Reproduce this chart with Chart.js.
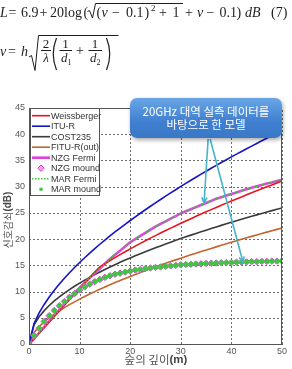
<!DOCTYPE html>
<html><head><meta charset="utf-8">
<script src="https://cdn.jsdelivr.net/npm/chart.js@4.4.1/dist/chart.umd.min.js"></script>
<style>
html,body{margin:0;padding:0;background:#fff;width:292px;height:369px;overflow:hidden;}
#wrap{position:relative;width:292px;height:369px;}
canvas{position:absolute;left:0;top:0;}
#eq{position:absolute;left:0;top:0;}
#eq text{font-family:"Liberation Serif","DejaVu Serif",serif;fill:#1e1e1e;font-size:14px;}
#eq .i{font-style:italic;}
#eq path,#eq line{stroke:#1e1e1e;fill:none;stroke-width:1;}
#callout{position:absolute;left:130px;top:98px;width:152px;height:40px;border-radius:7px;
 background:linear-gradient(#6aa6e6,#3f7fcf 60%,#3a78c6);box-shadow:1px 2px 4px rgba(0,0,0,0.35);
 color:#fff;font-family:"Noto Sans CJK KR","Noto Sans",sans-serif;font-size:11.5px;line-height:13px;text-align:center;
 display:flex;flex-direction:column;justify-content:center;}
</style></head>
<body><div id="wrap">
<canvas id="c" width="292" height="369"></canvas>
<svg id="eq" width="292" height="80" viewBox="0 0 292 80">
 <text class="i" x="0" y="17">L</text>
 <text x="8.5" y="17">=</text>
 <text x="21" y="17">6.9</text>
 <text x="39.5" y="17">+</text>
 <text x="50" y="17">20log</text>
 <text x="83.5" y="17">(</text>
 <path d="M87.5,11.5 L89.5,10.5 L92.5,18 L95.5,3.5 L183,3.5"/>
 <text x="96.5" y="17">(</text>
 <text class="i" x="101.5" y="17">v</text>
 <text x="112" y="17">−</text>
 <text x="126" y="17">0.1</text>
 <text x="144.5" y="17">)</text>
 <text x="151" y="11" style="font-size:9px">2</text>
 <text x="159" y="17">+</text>
 <text x="172.5" y="17">1</text>
 <text x="185" y="17">+</text>
 <text class="i" x="197" y="17">v</text>
 <text x="206.5" y="17">−</text>
 <text x="219.5" y="17">0.1</text>
 <text x="236.5" y="17">)</text>
 <text class="i" x="245" y="17">dB</text>
 <text x="271" y="17">(7)</text>

 <text class="i" x="0" y="56">v</text>
 <text x="8" y="56">=</text>
 <text class="i" x="21" y="56">h</text>
 <path d="M29,57 L31.5,55.5 L35,70.5 L38.5,35.5 L118.5,35.5"/>
 <text x="46" y="47.5" text-anchor="middle" style="font-size:13px">2</text>
 <line x1="41" y1="50.5" x2="51" y2="50.5"/>
 <text class="i" x="46" y="62" text-anchor="middle" style="font-size:13px">λ</text>
 <path d="M56.5,38 Q50,54 56.5,70" style="stroke-width:1.2"/>
 <text x="65.5" y="47.5" text-anchor="middle" style="font-size:13px">1</text>
 <line x1="59.5" y1="50.5" x2="72" y2="50.5"/>
 <text class="i" x="61" y="62" style="font-size:13px">d</text>
 <text x="67.5" y="65" style="font-size:8px">1</text>
 <text x="80" y="55" text-anchor="middle">+</text>
 <text x="95" y="47.5" text-anchor="middle" style="font-size:13px">1</text>
 <line x1="88.5" y1="50.5" x2="102" y2="50.5"/>
 <text class="i" x="90" y="62" style="font-size:13px">d</text>
 <text x="96.5" y="65" style="font-size:8px">2</text>
 <path d="M106.5,38 Q113,54 106.5,70" style="stroke-width:1.2"/>
</svg>
<div id="callout"><div>20GHz 대역 실측 데이터를</div><div>바탕으로 한 모델</div></div>
</div>
<script>
const depth = [0,1,2,3,4,5,6,7,8,9,10,11,12,13,14,15,16,17,18,19,20,21,22,23,24,25,26,27,28,29,30,31,32,33,34,35,36,37,38,39,40,41,42,43,44,45,46,47,48,49,50];
const weissberger = [0,1.05,2.11,3.16,4.22,5.27,6.32,7.38,8.43,9.49,10.54,11.6,12.65,13.7,14.7,15.31,15.9,16.48,17.04,17.59,18.14,18.66,19.18,19.69,20.19,20.67,21.16,21.63,22.1,22.56,23.02,23.46,23.9,24.34,24.77,25.2,25.62,26.04,26.45,26.86,27.26,27.66,28.05,28.44,28.83,29.21,29.59,29.97,30.34,30.71,31.08];
const ituR = [0,3.9,5.92,7.54,8.96,10.25,11.43,12.54,13.59,14.58,15.53,16.45,17.33,18.19,19.02,19.82,20.6,21.36,22.11,22.83,23.55,24.24,24.93,25.6,26.26,26.92,27.55,28.19,28.81,29.42,30.05,30.63,31.22,31.8,32.39,32.95,33.5,34.05,34.6,35.13,35.69,36.2,36.71,37.22,37.73,38.24,38.74,39.24,39.73,40.22,40.8];
const cost235 = [0,3.67,5.19,6.36,7.34,8.21,8.99,9.71,10.38,11.01,11.61,12.17,12.71,13.23,13.73,14.21,14.68,15.13,15.57,16.0,16.41,16.82,17.21,17.6,17.98,18.35,18.71,19.07,19.42,19.76,20.1,20.43,20.76,21.08,21.4,21.71,22.02,22.32,22.62,22.92,23.21,23.5,23.78,24.07,24.34,24.62,24.89,25.16,25.43,25.69,25.95];
const fituR = [0,2.2,3.31,4.21,4.99,5.69,6.33,6.93,7.5,8.04,8.56,9.05,9.53,9.99,10.44,10.87,11.29,11.71,12.11,12.5,12.88,13.26,13.63,13.99,14.35,14.7,15.04,15.38,15.71,16.04,16.37,16.69,17.0,17.31,17.62,17.92,18.22,18.52,18.82,19.11,19.39,19.68,19.96,20.24,20.52,20.79,21.06,21.33,21.6,21.86,22.12];
const nzgFermi = [0,1.0,2.1,3.2,4.3,5.4,6.5,7.6,8.6,9.7,10.7,11.7,12.6,13.5,14.4,15.3,16.2,17.0,17.8,18.6,19.4,20.0,20.6,21.2,21.8,22.4,22.9,23.4,23.9,24.4,24.9,25.3,25.7,26.1,26.5,26.9,27.3,27.7,28.0,28.3,28.6,28.9,29.2,29.5,29.8,30.1,30.3,30.6,30.8,31.1,31.3];
const nzgMound = [0,1.6,3.0,4.3,5.4,6.4,7.3,8.1,8.9,9.6,10.3,10.9,11.4,11.9,12.3,12.7,13.0,13.3,13.5,13.7,13.9,14.1,14.2,14.4,14.5,14.6,14.7,14.8,14.9,15.0,15.1,15.15,15.2,15.25,15.3,15.35,15.4,15.45,15.5,15.5,15.55,15.6,15.6,15.65,15.7,15.7,15.75,15.75,15.8,15.8,15.85];
const marFermi = nzgFermi.slice();
const marMound = nzgMound.slice();
const xTicks = [0,10,20,30,40,50];
const yTicks = [0,5,10,15,20,25,30,35,40,45];
const seriesNames = ['Weissberger','ITU-R','COST235','FITU-R(out)','NZG Fermi','NZG mound','MAR Fermi','MAR mound'];
const yTitle = ['신호감쇠','(dB)'];
const xTitle = ['숲의 깊이','(m)'];
// callout arrows in data units [x0,y0,x1,y1]
const arrows = [[35.4,39.1,34.6,26.9],[35.8,39.1,42.3,15.6]];

const pts = arr => depth.map((d,i)=>({x:d,y:arr[i]}));
const RED='#e8141c', BLUE='#1414c8', BLACK='#3a3a3a', BROWN='#c4642c', MAG='#e040e0', GREEN='#3cc83c';
const datasets = [
 {label:seriesNames[0],data:pts(weissberger),borderColor:RED,borderWidth:1.6,pointRadius:0,order:3},
 {label:seriesNames[1],data:pts(ituR),borderColor:BLUE,borderWidth:1.6,pointRadius:0,order:5},
 {label:seriesNames[2],data:pts(cost235),borderColor:BLACK,borderWidth:1.6,pointRadius:0,order:6},
 {label:seriesNames[3],data:pts(fituR),borderColor:BROWN,borderWidth:1.6,pointRadius:0,order:7},
 {label:seriesNames[4],data:pts(nzgFermi),borderColor:MAG,borderWidth:2.6,pointRadius:0,order:4},
 {label:seriesNames[5],data:pts(nzgMound),showLine:false,pointStyle:'rectRot',pointRadius:3.2,borderColor:MAG,backgroundColor:'#f0a0f0',pointBorderWidth:1,order:2},
 {label:seriesNames[6],data:pts(marFermi),borderColor:GREEN,borderWidth:1.5,borderDash:[1.5,1.5],pointRadius:0,order:1},
 {label:seriesNames[7],data:pts(marMound),showLine:false,pointStyle:'circle',pointRadius:2.3,borderColor:GREEN,backgroundColor:GREEN,pointBorderWidth:0.5,order:0}
];
datasets.forEach(d=>{d.tension=0;d.fill=false;d.pointHoverRadius=0;});

const gridPlugin = {
 id:'dotgrid',
 beforeDatasetsDraw(chart){
  const ctx=chart.ctx, a=chart.chartArea, xs=chart.scales.x, ys=chart.scales.y;
  ctx.save(); ctx.strokeStyle='#6e6e6e'; ctx.lineWidth=1; ctx.setLineDash([2,2]);
  xTicks.forEach(v=>{const p=Math.round(xs.getPixelForValue(v))+0.5; ctx.beginPath(); ctx.moveTo(p,a.bottom); ctx.lineTo(p,a.top); ctx.stroke();});
  yTicks.forEach(v=>{const p=Math.round(ys.getPixelForValue(v))+0.5; ctx.beginPath(); ctx.moveTo(a.left,p); ctx.lineTo(a.right,p); ctx.stroke();});
  ctx.restore();
 }
};

const decor = {
 id:'decor',
 afterDatasetsDraw(chart){
  const ctx=chart.ctx, a=chart.chartArea, xs=chart.scales.x, ys=chart.scales.y;
  ctx.save();
  ctx.strokeStyle='#555'; ctx.lineWidth=1;
  ctx.strokeRect(Math.round(a.left)+0.5,Math.round(a.top)+0.5,Math.round(a.right-a.left)-1,Math.round(a.bottom-a.top));
  // arrows
  ctx.strokeStyle='#48b4cc'; ctx.lineWidth=1.6;
  arrows.forEach(([x0,y0,x1,y1])=>{
   const p0=[xs.getPixelForValue(x0),ys.getPixelForValue(y0)], p1=[xs.getPixelForValue(x1),ys.getPixelForValue(y1)];
   ctx.beginPath(); ctx.moveTo(p0[0],p0[1]); ctx.lineTo(p1[0],p1[1]); ctx.stroke();
   const ang=Math.atan2(p1[1]-p0[1],p1[0]-p0[0]), L=6, w=0.45;
   ctx.beginPath();
   ctx.moveTo(p1[0]-L*Math.cos(ang-w),p1[1]-L*Math.sin(ang-w));
   ctx.lineTo(p1[0],p1[1]);
   ctx.lineTo(p1[0]-L*Math.cos(ang+w),p1[1]-L*Math.sin(ang+w));
   ctx.stroke();
  });
  // legend
  const lx=a.left+1, ly=a.top, lw=69, lh=87;
  ctx.fillStyle='#fff'; ctx.fillRect(lx,ly,lw,lh);
  ctx.strokeStyle='#555'; ctx.lineWidth=1; ctx.strokeRect(lx+0.5,ly+0.5,lw,lh);
  ctx.font='9px "Liberation Sans", Arial, sans-serif'; ctx.textBaseline='middle'; ctx.textAlign='left';
  chart.data.datasets.forEach((ds,i)=>{
   const cy=ly+7.7+i*10.5, x0=lx+2, x1=lx+20;
   ctx.setLineDash([]);
   if(ds.showLine===false){
    if(ds.pointStyle==='rectRot'){
     ctx.beginPath(); ctx.moveTo((x0+x1)/2,cy-3.2); ctx.lineTo((x0+x1)/2+3.2,cy); ctx.lineTo((x0+x1)/2,cy+3.2); ctx.lineTo((x0+x1)/2-3.2,cy); ctx.closePath();
     ctx.fillStyle=ds.backgroundColor; ctx.fill(); ctx.strokeStyle=ds.borderColor; ctx.lineWidth=1; ctx.stroke();
    } else {
     ctx.beginPath(); ctx.arc((x0+x1)/2,cy,1.8,0,Math.PI*2); ctx.fillStyle=ds.backgroundColor; ctx.fill();
    }
   } else {
    ctx.strokeStyle=ds.borderColor; ctx.lineWidth=ds.borderWidth;
    if(ds.borderDash) ctx.setLineDash(ds.borderDash);
    ctx.beginPath(); ctx.moveTo(x0,cy); ctx.lineTo(x1,cy); ctx.stroke();
    ctx.setLineDash([]);
   }
   ctx.fillStyle='#333'; ctx.fillText(ds.label,x1+1,cy+0.5);
  });
  // axis titles
  const drawTwo=(parts,cx,cy,fs)=>{
   ctx.textBaseline='middle';
   const kf=fs+'px "Noto Sans CJK KR", sans-serif', bf='bold '+fs+'px "Liberation Sans", Arial, sans-serif';
   ctx.font=kf; const w1=ctx.measureText(parts[0]).width;
   ctx.font=bf; const w2=ctx.measureText(parts[1]).width;
   let sx=cx-(w1+w2)/2;
   ctx.textAlign='left'; ctx.fillStyle='#555';
   ctx.font=kf; ctx.fillText(parts[0],sx,cy);
   ctx.font=bf; ctx.fillStyle='#444'; ctx.fillText(parts[1],sx+w1,cy+0.5);
  };
  ctx.save(); ctx.translate(8,a.top+(a.bottom-a.top)/2-6); ctx.rotate(-Math.PI/2); drawTwo(yTitle,0,0,10); ctx.restore();
  drawTwo(xTitle,(a.left+a.right)/2+0.5,359.5,11.5);
  ctx.restore();
 }
};

new Chart(document.getElementById('c'),{
 type:'line',
 data:{datasets},
 options:{
  responsive:false,animation:false,devicePixelRatio:1,
  layout:{padding:{top:108,right:10,left:0,bottom:0}},
  plugins:{legend:{display:false},tooltip:{enabled:false}},
  scales:{
   x:{type:'linear',min:0,max:50,
      afterFit(s){s.height=25;},
      afterBuildTicks(s){s.ticks=xTicks.map(v=>({value:v}));},
      ticks:{padding:2,color:'#555',font:{size:9,family:'"Liberation Sans", Arial, sans-serif'},maxRotation:0},
      grid:{display:true,color:'rgba(0,0,0,0)',drawTicks:false},
      border:{display:true,color:'#555'}
   },
   y:{type:'linear',min:0,max:45,
      afterFit(s){s.width=29;},
      afterBuildTicks(s){s.ticks=yTicks.map(v=>({value:v}));},
      ticks:{padding:4,color:'#555',font:{size:9,family:'"Liberation Sans", Arial, sans-serif'}},
      grid:{display:true,color:'rgba(0,0,0,0)',drawTicks:false},
      border:{display:true,color:'#555'}
   }
  }
 },
 plugins:[gridPlugin,decor]
});
</script>
</body></html>
